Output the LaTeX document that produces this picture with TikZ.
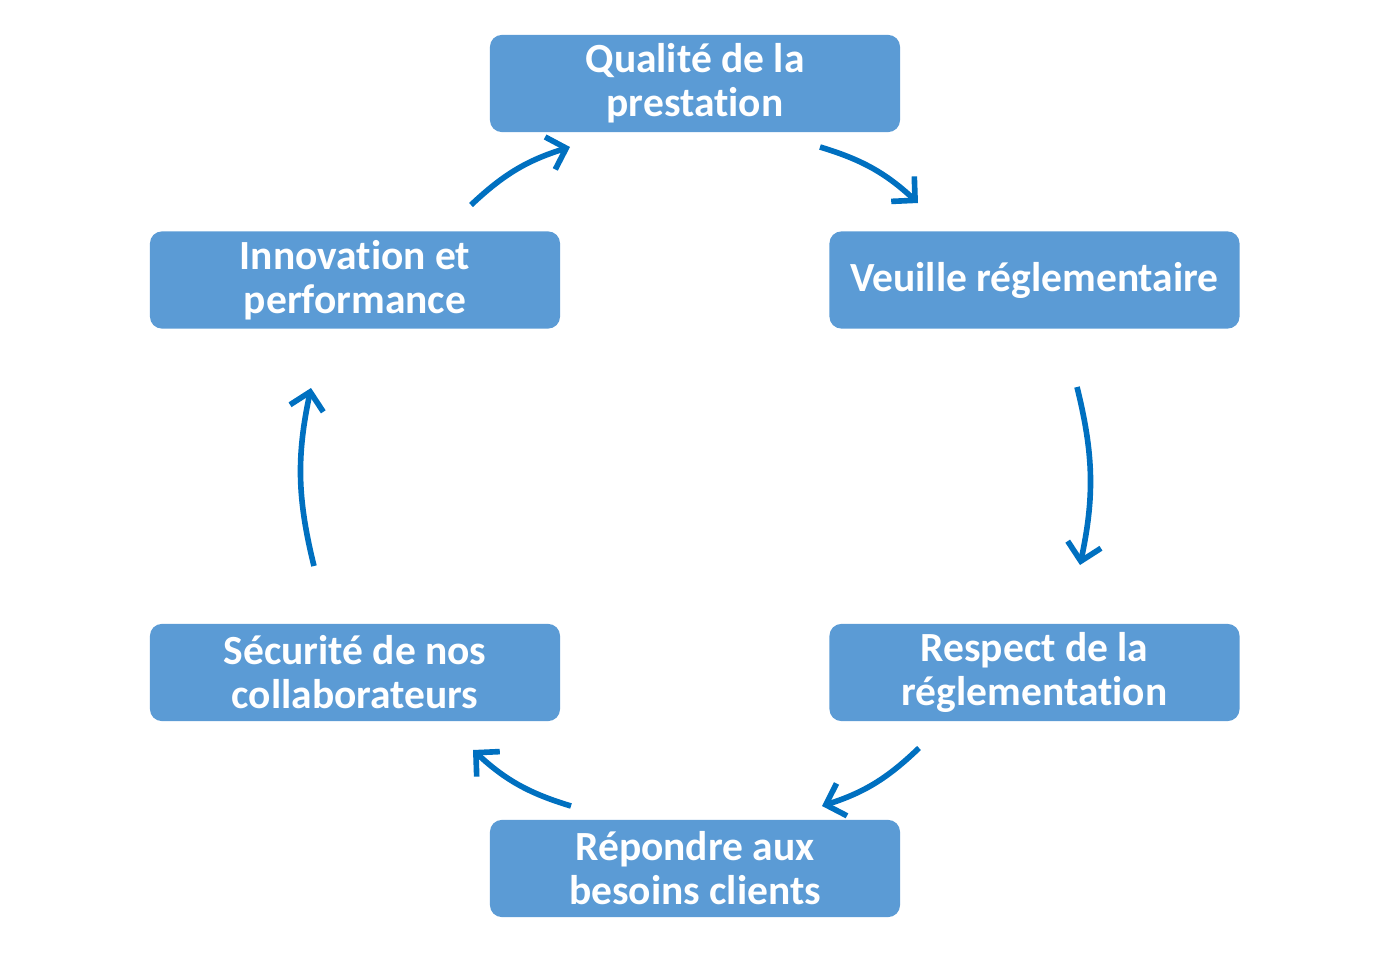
\documentclass[tikz,border=0pt]{standalone}
\usepackage{fontspec}
\setmainfont{Carlito}[Ligatures=NoCommon]
\usetikzlibrary{arrows.meta}
\definecolor{boxblue}{HTML}{5B9BD5}
\definecolor{arrowblue}{HTML}{0070C0}

\begin{document}
\begin{tikzpicture}[x=0.025cm, y=-0.025cm,
  etape/.style={fill=boxblue, rounded corners=0.3cm, text=white,
    minimum width=10.25cm, minimum height=2.43cm, align=center,
    font=\fontsize{29.5}{31.3}\selectfont\bfseries},
  fleche/.style={arrowblue, line width=4pt, bend left=13,
    -{Straight Barb[length=0.42cm, width=0.85cm, line width=4pt]}}]
  \useasboundingbox (0,0) rectangle (1390,954);
  \node[etape] (qualite) at (695,83.5) {Qualité de la\\prestation};
  \node[etape] (veille) at (1034.5,280) {Veuille réglementaire};
  \node[etape] (respect) at (1034.5,672.5) {Respect de la\\réglementation};
  \node[etape] (besoins) at (695,868.5) {Répondre aux\\besoins clients};
  \node[etape] (securite) at (355,672.5) {Sécurité de nos\\collaborateurs};
  \node[etape] (innovation) at (355,280) {Innovation et\\performance};
  % extrémités des flèches
  \coordinate (a1) at (471,205);  \coordinate (b1) at (570,147);
  \coordinate (a2) at (820,147);  \coordinate (b2) at (918,203);
  \coordinate (a3) at (1077,387); \coordinate (b3) at (1080,565);
  \coordinate (a4) at (919,748);  \coordinate (b4) at (822,806);
  \coordinate (a5) at (571,806);  \coordinate (b5) at (473,750);
  \coordinate (a6) at (314,566);  \coordinate (b6) at (311,388);
  \foreach \i in {1,...,6}
    \draw[fleche] (a\i) to (b\i);
\end{tikzpicture}
\end{document}
